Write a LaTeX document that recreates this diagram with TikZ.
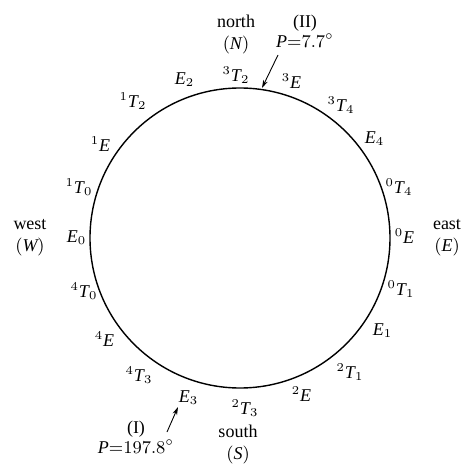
\documentclass[tikz,border=0pt]{standalone}
\usepackage{fontspec}
\setmainfont{Liberation Serif}
\usetikzlibrary{arrows.meta}
\newcommand\lb[3]{$^{#1}\mathit{#2}_{#3}$}
\begin{document}
\begin{tikzpicture}[x=0.5pt,y=-0.5pt,
  lab/.style={font=\fontsize{9}{10}\selectfont, inner sep=0pt, align=center},
  wheel/.style={line width=0.7pt},
  ptr/.style={line width=0.45pt, -{Stealth[length=4pt,width=2.4pt]}}]
\useasboundingbox (0,0) rectangle (466,465);
\node[circle, wheel, draw, minimum size=150pt, inner sep=0pt] (c) at (240,238) {};
% ring labels
\node[lab] (n0)  at (236,75)  {\lb{3}{T}{2}};
\node[lab] (n1)  at (292,82)  {\lb{3}{E}{}};
\node[lab] (n2)  at (341,105) {\lb{3}{T}{4}};
\node[lab] (n3)  at (374,139) {\lb{}{E}{4}};
\node[lab] (n4)  at (399,187) {\lb{0}{T}{4}};
\node[lab] (n5)  at (405,237) {\lb{0}{E}{}};
\node[lab] (n6)  at (401,289) {\lb{0}{T}{1}};
\node[lab] (n7)  at (382,331) {\lb{}{E}{1}};
\node[lab] (n8)  at (350,372) {\lb{2}{T}{1}};
\node[lab] (n9)  at (302,395) {\lb{2}{E}{}};
\node[lab] (n10) at (245,408) {\lb{2}{T}{3}};
\node[lab] (n11) at (188,398) {\lb{}{E}{3}};
\node[lab] (n12) at (139,375) {\lb{4}{T}{3}};
\node[lab] (n13) at (105,340) {\lb{4}{E}{}};
\node[lab] (n14) at (84,291)  {\lb{4}{T}{0}};
\node[lab] (n15) at (76,238)  {\lb{}{E}{0}};
\node[lab] (n16) at (79,187)  {\lb{1}{T}{0}};
\node[lab] (n17) at (101,145) {\lb{1}{E}{}};
\node[lab] (n18) at (133,101) {\lb{1}{T}{2}};
\node[lab] (n19) at (184,80)  {\lb{}{E}{2}};
% compass
\node[lab] (north) at (236,35) {north\\[1pt]$(\mathit{N})$};
\node[lab] (south) at (238,445) {south\\[1pt]$(\mathit{S})$};
\node[lab] (west)  at (30,238)  {west\\[1pt]$(\mathit{W})$};
\node[lab] (east)  at (447,238) {east\\[1pt]$(\mathit{E})$};
% conformers
\node[lab] (two) at (305,31) {(II)\\$\mathit{P}{=}7.7^\circ$};
\node[lab] (one) at (136,437) {(I)\\$\mathit{P}{=}197.8^\circ$};
\coordinate (t2) at (262,88);
\coordinate (s2) at (278,55);
\coordinate (t1) at (178,407);
\coordinate (s1) at (167,432);
\draw[ptr] (s2) -- (t2);
\draw[ptr] (s1) -- (t1);
\end{tikzpicture}
\end{document}
